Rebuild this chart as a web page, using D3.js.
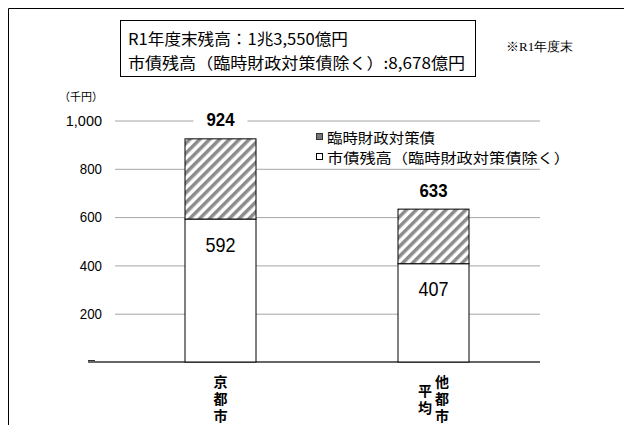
<!DOCTYPE html>
<html lang="ja">
<head>
<meta charset="UTF-8">
<title>市債残高</title>
<script src="https://d3js.org/d3.v7.min.js"></script>
<style>
  body { margin: 0; background: #fff; }
  text { font-family: "Noto Sans CJK JP", sans-serif; fill: #000; }
  .num { font-family: "Liberation Sans", "Noto Sans", sans-serif; }
</style>
</head>
<body>
<script>
// data
var categories = ['京都市', '他都市平均'];
var shisai = [592, 407];      // 市債残高（臨時財政対策債除く）
var rinzai = [332, 226];      // 臨時財政対策債
var totals = [924, 633];
var yTicks = [200, 400, 600, 800, 1000];
var legendLabels = ['臨時財政対策債', '市債残高（臨時財政対策債除く）'];
var boxLines = ['R1年度末残高：1兆3,550億円', '市債残高（臨時財政対策債除く）:8,678億円'];

var w = 624, h = 425;

var svg = d3.select('body').append('svg')
    .attr('width', w)
    .attr('height', h);

// hatch pattern
var pat = svg.append('defs').append('pattern')
    .attr('id', 'hatch')
    .attr('patternUnits', 'userSpaceOnUse')
    .attr('width', 7).attr('height', 7)
    .attr('patternTransform', 'rotate(45)');
pat.append('rect').attr('width', 7).attr('height', 7).attr('fill', '#fff');
pat.append('line').attr('x1', 1.75).attr('y1', 0).attr('x2', 1.75).attr('y2', 7)
    .attr('stroke', '#8c8c8c').attr('stroke-width', 3.5);

// outer frame (top and left)
svg.append('path')
    .attr('d', 'M8.5,' + h + 'V8.5H' + w)
    .attr('fill', 'none').attr('stroke', '#000').attr('stroke-width', 1);

// scales
var x = d3.scaleBand()
    .domain(categories)
    .range([114, 540])
    .paddingInner(2 / 3)
    .paddingOuter(1 / 3);

var y = d3.scaleLinear()
    .domain([0, 1000])
    .range([362, 120.5]);

// narrow digits like the reference font
function narrowLen(s, per) {
    return String(s).split('').reduce((a, ch) => a + (ch === ',' ? per * 0.9 : per), 0);
}

// axis + gridlines
var axis = svg.append('g')
    .attr('transform', 'translate(115,0)')
    .call(d3.axisLeft(y).tickValues(yTicks).tickSize(-425).tickPadding(13).tickFormat(d3.format(',')));
axis.select('.domain').remove();
axis.selectAll('.tick line').attr('stroke', '#a6a6a6');
axis.selectAll('.tick text')
    .attr('class', 'num')
    .style('font-size', '15px')
    .attr('fill', '#000')
    .attr('textLength', d => narrowLen(d3.format(',')(d), 7.4))
    .attr('lengthAdjust', 'spacingAndGlyphs');

svg.append('text')
    .attr('x', 81).attr('y', 96)
    .attr('text-anchor', 'middle')
    .attr('dominant-baseline', 'central')
    .style('font-size', '11px')
    .text('（千円）');

// baseline
svg.append('line')
    .attr('x1', 88).attr('x2', 540)
    .attr('y1', y(0)).attr('y2', y(0))
    .attr('stroke', '#333').attr('stroke-width', 1.5);
svg.append('line')
    .attr('x1', 88).attr('x2', 95)
    .attr('y1', y(0) - 1.5).attr('y2', y(0) - 1.5)
    .attr('stroke', '#333').attr('stroke-width', 1);

// bars
var bars = svg.append('g');
bars.selectAll('rect.low')
    .data(categories)
    .enter().append('rect')
    .attr('class', 'low')
    .attr('x', d => x(d))
    .attr('width', x.bandwidth())
    .attr('y', (d, i) => y(shisai[i]))
    .attr('height', (d, i) => y(0) - y(shisai[i]))
    .attr('fill', '#fff')
    .attr('stroke', '#000');

bars.selectAll('rect.high')
    .data(categories)
    .enter().append('rect')
    .attr('class', 'high')
    .attr('x', d => x(d))
    .attr('width', x.bandwidth())
    .attr('y', (d, i) => y(shisai[i] + rinzai[i]))
    .attr('height', (d, i) => y(shisai[i]) - y(shisai[i] + rinzai[i]))
    .attr('fill', 'url(#hatch)')
    .attr('stroke', '#000');

// total labels
var tl = svg.append('g').selectAll('g')
    .data(categories)
    .enter().append('g')
    .attr('transform', (d, i) => 'translate(' + (x(d) + x.bandwidth() / 2) + ',' + (y(totals[i]) - 19) + ')');
tl.append('rect')
    .attr('x', -27).attr('y', -10).attr('width', 54).attr('height', 20)
    .attr('fill', '#fff');
tl.append('text')
    .attr('class', 'num')
    .attr('x', -14)
    .attr('dominant-baseline', 'central')
    .style('font-size', '19px')
    .style('font-weight', 'bold')
    .attr('textLength', 28)
    .attr('lengthAdjust', 'spacingAndGlyphs')
    .text((d, i) => totals[i]);

// inner labels
svg.append('g').selectAll('text')
    .data(categories)
    .enter().append('text')
    .attr('class', 'num')
    .attr('x', d => x(d) + x.bandwidth() / 2 - 15)
    .attr('y', (d, i) => y(shisai[i]) + 25)
    .attr('dominant-baseline', 'central')
    .style('font-size', '21px')
    .attr('textLength', 30)
    .attr('lengthAdjust', 'spacingAndGlyphs')
    .text((d, i) => shisai[i]);

// vertical category labels (3 chars per column, right to left)
categories.forEach(function(c) {
    var cx = x(c) + x.bandwidth() / 2;
    var cols = [];
    for (var k = 0; k < c.length; k += 3) cols.push(c.slice(k, k + 3));
    cols.forEach(function(col, ci) {
        var colX = cx + ((cols.length - 1) / 2 - ci) * 17;
        svg.append('text')
            .attr('x', colX)
            .attr('y', 400.5)
            .attr('text-anchor', 'middle')
            .style('writing-mode', 'vertical-rl')
            .style('font-size', '14px')
            .style('font-weight', 'bold')
            .style('letter-spacing', '3px')
            .text(col);
    });
});

// legend
var lg = svg.append('g').attr('transform', 'translate(316,0)');
lg.append('rect').attr('x', 0.5).attr('y', 133.5).attr('width', 6).attr('height', 6)
    .attr('fill', '#777').attr('stroke', '#333');
lg.append('rect').attr('x', 0.5).attr('y', 153.5).attr('width', 6).attr('height', 6)
    .attr('fill', '#fff').attr('stroke', '#000');
var legLen = [108, 243];
lg.selectAll('text')
    .data(legendLabels)
    .enter().append('text')
    .attr('x', 11)
    .attr('y', (d, i) => 136.5 + i * 20.5)
    .attr('dominant-baseline', 'central')
    .style('font-size', '14px')
    .attr('textLength', (d, i) => legLen[i])
    .attr('lengthAdjust', 'spacingAndGlyphs')
    .text(d => d);

// note box
svg.append('rect')
    .attr('x', 120.5).attr('y', 20.5).attr('width', 355).attr('height', 56)
    .attr('fill', '#fff').attr('stroke', '#000');
var boxLen = [220, 337];
svg.selectAll('text.box')
    .data(boxLines)
    .enter().append('text')
    .attr('class', 'box')
    .attr('x', 128)
    .attr('y', (d, i) => 38 + i * 24)
    .attr('dominant-baseline', 'central')
    .style('font-size', '15.5px')
    .attr('textLength', (d, i) => boxLen[i])
    .attr('lengthAdjust', 'spacingAndGlyphs')
    .text(d => d);

svg.append('text')
    .attr('x', 506).attr('y', 46)
    .attr('dominant-baseline', 'central')
    .style('font-family', '"Liberation Serif", "DejaVu Serif", serif')
    .style('font-size', '13px')
    .text('※R1年度末');
</script>
</body>
</html>
